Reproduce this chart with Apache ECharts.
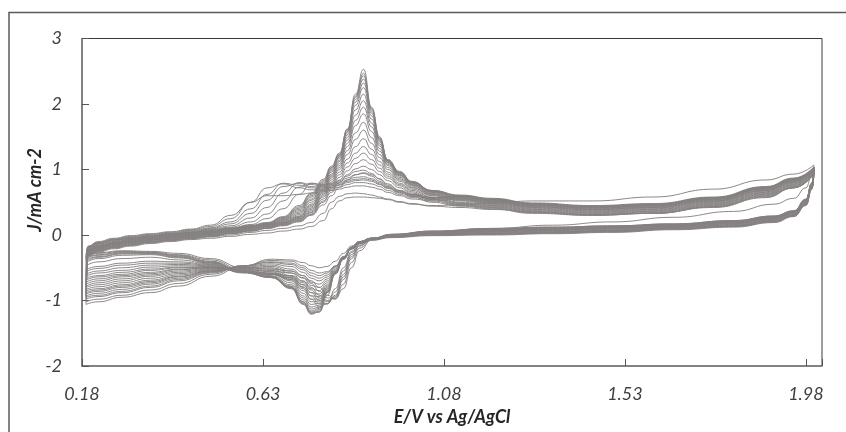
<!DOCTYPE html>
<html>
<head>
<meta charset="utf-8">
<script src="https://cdn.jsdelivr.net/npm/echarts@6/dist/echarts.min.js"></script>
<style>html,body{margin:0;padding:0;background:#fff;}#chart{width:846px;height:432px;}</style>
</head>
<body>
<div id="chart"></div>
<script>
// Potential grids (V vs Ag/AgCl) for the anodic (forward) and cathodic (reverse) sweeps
const fwdE = [0.19, 0.195, 0.22, 0.26, 0.30, 0.35, 0.40, 0.45, 0.50, 0.55, 0.60, 0.64, 0.68, 0.72, 0.75, 0.78, 0.80, 0.82, 0.84, 0.86, 0.88, 0.90, 0.92, 0.94, 0.97, 1.00, 1.05, 1.12, 1.20, 1.30, 1.45, 1.60, 1.75, 1.88, 1.95, 2.00];
const revE = [2.00, 1.995, 1.98, 1.95, 1.90, 1.80, 1.65, 1.50, 1.35, 1.20, 1.05, 0.95, 0.90, 0.87, 0.85, 0.83, 0.81, 0.79, 0.77, 0.75, 0.73, 0.70, 0.65, 0.58, 0.50, 0.42, 0.35, 0.28, 0.22, 0.19];

// Current density (mA cm-2), one pair of arrays per cycle
const cycle01Fwd = [-1.06, -0.32, -0.26, -0.21, -0.17, -0.13, -0.1, -0.07, -0.05, -0.02, 0.01, 0.03, 0.06, 0.09, 0.13, 0.22, 0.4, 0.52, 0.57, 0.58, 0.58, 0.57, 0.56, 0.54, 0.5, 0.47, 0.45, 0.46, 0.49, 0.52, 0.52, 0.58, 0.7, 0.84, 0.93, 1.07];
const cycle01Rev = [1.07, 0.92, 0.72, 0.56, 0.47, 0.36, 0.27, 0.2, 0.15, 0.1, 0.05, 0.0, -0.05, -0.1, -0.17, -0.28, -0.4, -0.48, -0.5, -0.47, -0.42, -0.38, -0.37, -0.48, -0.63, -0.78, -0.88, -0.95, -1.02, -1.06];

const cycle02Fwd = [-1.02, -0.31, -0.25, -0.2, -0.16, -0.12, -0.09, -0.06, -0.03, 0.0, 0.04, 0.07, 0.1, 0.14, 0.19, 0.33, 0.5, 0.59, 0.63, 0.64, 0.63, 0.61, 0.58, 0.55, 0.51, 0.48, 0.44, 0.42, 0.39, 0.35, 0.31, 0.33, 0.42, 0.57, 0.72, 0.94];
const cycle02Rev = [0.94, 0.7, 0.45, 0.28, 0.19, 0.12, 0.08, 0.04, 0.02, 0.0, -0.01, -0.04, -0.08, -0.13, -0.22, -0.35, -0.48, -0.56, -0.58, -0.54, -0.47, -0.4, -0.39, -0.47, -0.6, -0.74, -0.84, -0.92, -0.98, -1.02];

const cycle03Fwd = [-0.98, -0.3, -0.24, -0.19, -0.15, -0.11, -0.08, -0.05, -0.02, 0.02, 0.06, 0.1, 0.14, 0.2, 0.3, 0.46, 0.6, 0.73, 0.84, 0.92, 0.95, 0.92, 0.86, 0.78, 0.68, 0.59, 0.5, 0.44, 0.4, 0.33, 0.3, 0.33, 0.43, 0.58, 0.72, 0.93];
const cycle03Rev = [0.93, 0.7, 0.46, 0.29, 0.2, 0.13, 0.09, 0.05, 0.03, 0.01, 0.0, -0.03, -0.07, -0.12, -0.2, -0.33, -0.47, -0.58, -0.62, -0.58, -0.5, -0.43, -0.41, -0.47, -0.58, -0.7, -0.8, -0.88, -0.94, -0.98];

const cycle04Fwd = [-0.95, -0.3, -0.24, -0.19, -0.15, -0.11, -0.08, -0.05, -0.02, 0.02, 0.06, 0.1, 0.15, 0.21, 0.31, 0.5, 0.65, 0.8, 0.92, 1.01, 1.05, 1.0, 0.92, 0.83, 0.72, 0.62, 0.52, 0.45, 0.41, 0.34, 0.3, 0.33, 0.43, 0.59, 0.72, 0.94];
const cycle04Rev = [0.94, 0.71, 0.46, 0.29, 0.2, 0.13, 0.09, 0.05, 0.03, 0.01, 0.0, -0.03, -0.07, -0.12, -0.2, -0.33, -0.48, -0.61, -0.66, -0.62, -0.53, -0.45, -0.42, -0.47, -0.57, -0.68, -0.78, -0.86, -0.92, -0.95];

const cycle05Fwd = [-0.93, -0.29, -0.23, -0.18, -0.14, -0.1, -0.07, -0.04, -0.01, 0.03, 0.07, 0.11, 0.16, 0.22, 0.32, 0.52, 0.68, 0.84, 0.98, 1.09, 1.15, 1.08, 0.97, 0.87, 0.75, 0.64, 0.54, 0.46, 0.42, 0.35, 0.31, 0.34, 0.44, 0.6, 0.73, 0.95];
const cycle05Rev = [0.95, 0.72, 0.47, 0.3, 0.21, 0.14, 0.1, 0.06, 0.04, 0.02, 0.0, -0.03, -0.07, -0.12, -0.2, -0.34, -0.5, -0.64, -0.7, -0.66, -0.57, -0.48, -0.44, -0.48, -0.56, -0.66, -0.75, -0.83, -0.89, -0.93];

const cycle06Fwd = [-0.9, -0.29, -0.23, -0.18, -0.14, -0.1, -0.07, -0.04, -0.01, 0.03, 0.07, 0.11, 0.16, 0.23, 0.34, 0.55, 0.72, 0.88, 1.04, 1.17, 1.25, 1.15, 1.02, 0.9, 0.77, 0.66, 0.55, 0.47, 0.43, 0.36, 0.32, 0.35, 0.45, 0.61, 0.74, 0.95];
const cycle06Rev = [0.95, 0.72, 0.47, 0.3, 0.21, 0.14, 0.1, 0.06, 0.04, 0.02, 0.0, -0.03, -0.07, -0.12, -0.2, -0.35, -0.52, -0.67, -0.75, -0.72, -0.62, -0.52, -0.46, -0.49, -0.55, -0.64, -0.73, -0.8, -0.86, -0.9];

const cycle07Fwd = [-0.88, -0.28, -0.22, -0.17, -0.13, -0.09, -0.06, -0.03, 0.0, 0.04, 0.08, 0.12, 0.17, 0.24, 0.35, 0.58, 0.75, 0.92, 1.1, 1.25, 1.35, 1.23, 1.07, 0.93, 0.79, 0.68, 0.57, 0.48, 0.44, 0.37, 0.33, 0.36, 0.46, 0.62, 0.75, 0.96];
const cycle07Rev = [0.96, 0.73, 0.48, 0.31, 0.22, 0.15, 0.1, 0.07, 0.05, 0.03, 0.01, -0.03, -0.07, -0.12, -0.21, -0.36, -0.54, -0.7, -0.8, -0.77, -0.66, -0.55, -0.48, -0.5, -0.55, -0.63, -0.71, -0.78, -0.84, -0.88];

const cycle08Fwd = [-0.85, -0.27, -0.21, -0.16, -0.12, -0.08, -0.05, -0.02, 0.01, 0.05, 0.09, 0.13, 0.18, 0.25, 0.37, 0.6, 0.78, 0.96, 1.16, 1.35, 1.47, 1.31, 1.12, 0.96, 0.82, 0.7, 0.58, 0.49, 0.45, 0.38, 0.34, 0.37, 0.47, 0.63, 0.76, 0.97];
const cycle08Rev = [0.97, 0.73, 0.48, 0.31, 0.22, 0.15, 0.11, 0.07, 0.05, 0.03, 0.01, -0.02, -0.06, -0.12, -0.21, -0.36, -0.55, -0.73, -0.85, -0.82, -0.71, -0.58, -0.5, -0.5, -0.54, -0.61, -0.69, -0.76, -0.82, -0.85];

const cycle09Fwd = [-0.83, -0.27, -0.21, -0.16, -0.12, -0.08, -0.05, -0.02, 0.01, 0.05, 0.09, 0.13, 0.18, 0.26, 0.39, 0.62, 0.81, 1.0, 1.23, 1.46, 1.6, 1.4, 1.18, 1.0, 0.84, 0.72, 0.6, 0.5, 0.46, 0.39, 0.35, 0.38, 0.48, 0.64, 0.77, 0.98];
const cycle09Rev = [0.98, 0.74, 0.49, 0.32, 0.23, 0.16, 0.11, 0.08, 0.06, 0.04, 0.02, -0.02, -0.06, -0.12, -0.21, -0.37, -0.57, -0.76, -0.9, -0.88, -0.76, -0.62, -0.52, -0.5, -0.53, -0.59, -0.66, -0.73, -0.79, -0.83];

const cycle10Fwd = [-0.8, -0.26, -0.2, -0.15, -0.11, -0.07, -0.04, -0.01, 0.02, 0.06, 0.1, 0.14, 0.19, 0.27, 0.41, 0.64, 0.84, 1.03, 1.29, 1.56, 1.72, 1.49, 1.23, 1.03, 0.86, 0.73, 0.61, 0.52, 0.47, 0.4, 0.36, 0.39, 0.49, 0.65, 0.78, 0.98];
const cycle10Rev = [0.98, 0.75, 0.5, 0.33, 0.24, 0.17, 0.12, 0.09, 0.07, 0.05, 0.02, -0.02, -0.06, -0.12, -0.21, -0.37, -0.58, -0.78, -0.94, -0.93, -0.8, -0.65, -0.54, -0.51, -0.52, -0.57, -0.63, -0.7, -0.76, -0.8];

const cycle11Fwd = [-0.78, -0.26, -0.2, -0.15, -0.11, -0.07, -0.04, -0.01, 0.02, 0.06, 0.1, 0.14, 0.19, 0.28, 0.43, 0.66, 0.87, 1.06, 1.35, 1.67, 1.85, 1.58, 1.28, 1.06, 0.88, 0.75, 0.62, 0.53, 0.48, 0.41, 0.37, 0.4, 0.5, 0.66, 0.79, 0.99];
const cycle11Rev = [0.99, 0.75, 0.5, 0.33, 0.24, 0.17, 0.12, 0.09, 0.07, 0.05, 0.02, -0.02, -0.06, -0.12, -0.21, -0.37, -0.58, -0.8, -0.98, -0.98, -0.85, -0.68, -0.56, -0.52, -0.51, -0.55, -0.61, -0.67, -0.73, -0.78];

const cycle12Fwd = [-0.75, -0.25, -0.19, -0.14, -0.1, -0.06, -0.03, 0.0, 0.03, 0.07, 0.11, 0.15, 0.2, 0.29, 0.45, 0.68, 0.89, 1.09, 1.4, 1.75, 1.95, 1.65, 1.32, 1.08, 0.9, 0.76, 0.63, 0.54, 0.49, 0.42, 0.38, 0.41, 0.51, 0.67, 0.8, 1.0];
const cycle12Rev = [1.0, 0.76, 0.51, 0.34, 0.25, 0.18, 0.13, 0.1, 0.08, 0.06, 0.03, -0.02, -0.06, -0.11, -0.2, -0.36, -0.58, -0.82, -1.01, -1.02, -0.89, -0.7, -0.58, -0.53, -0.5, -0.53, -0.59, -0.64, -0.7, -0.75];

const cycle13Fwd = [-0.72, -0.25, -0.19, -0.14, -0.1, -0.06, -0.03, 0.0, 0.03, 0.07, 0.11, 0.15, 0.21, 0.31, 0.47, 0.7, 0.91, 1.12, 1.45, 1.83, 2.05, 1.71, 1.36, 1.1, 0.91, 0.77, 0.64, 0.55, 0.5, 0.43, 0.39, 0.42, 0.52, 0.68, 0.81, 1.0];
const cycle13Rev = [1.0, 0.76, 0.51, 0.34, 0.25, 0.18, 0.13, 0.1, 0.08, 0.06, 0.03, -0.02, -0.06, -0.11, -0.2, -0.36, -0.58, -0.83, -1.04, -1.06, -0.93, -0.73, -0.6, -0.54, -0.5, -0.52, -0.57, -0.62, -0.67, -0.72];

const cycle14Fwd = [-0.69, -0.24, -0.18, -0.13, -0.09, -0.05, -0.02, 0.01, 0.04, 0.08, 0.12, 0.16, 0.22, 0.33, 0.5, 0.72, 0.93, 1.14, 1.49, 1.91, 2.15, 1.77, 1.39, 1.11, 0.92, 0.78, 0.65, 0.56, 0.51, 0.44, 0.4, 0.43, 0.53, 0.69, 0.82, 1.0];
const cycle14Rev = [1.0, 0.77, 0.52, 0.35, 0.26, 0.19, 0.14, 0.11, 0.09, 0.07, 0.03, -0.02, -0.06, -0.11, -0.2, -0.36, -0.58, -0.85, -1.07, -1.1, -0.96, -0.76, -0.62, -0.55, -0.49, -0.5, -0.54, -0.6, -0.64, -0.69];

const cycle15Fwd = [-0.66, -0.24, -0.18, -0.13, -0.09, -0.05, -0.02, 0.01, 0.04, 0.08, 0.12, 0.16, 0.23, 0.35, 0.53, 0.75, 0.96, 1.17, 1.53, 1.98, 2.25, 1.82, 1.42, 1.12, 0.93, 0.79, 0.66, 0.57, 0.52, 0.45, 0.41, 0.44, 0.54, 0.7, 0.83, 1.01];
const cycle15Rev = [1.01, 0.77, 0.52, 0.35, 0.26, 0.19, 0.14, 0.11, 0.09, 0.07, 0.03, -0.02, -0.06, -0.11, -0.2, -0.36, -0.58, -0.86, -1.1, -1.13, -0.99, -0.78, -0.63, -0.56, -0.49, -0.49, -0.52, -0.57, -0.62, -0.66];

const cycle16Fwd = [-0.63, -0.23, -0.17, -0.12, -0.08, -0.04, -0.01, 0.02, 0.05, 0.09, 0.13, 0.17, 0.24, 0.37, 0.55, 0.77, 0.98, 1.19, 1.56, 2.03, 2.32, 1.86, 1.44, 1.13, 0.94, 0.8, 0.66, 0.58, 0.53, 0.46, 0.42, 0.45, 0.55, 0.71, 0.84, 1.02];
const cycle16Rev = [1.02, 0.78, 0.52, 0.35, 0.27, 0.2, 0.15, 0.12, 0.1, 0.08, 0.04, -0.01, -0.05, -0.1, -0.19, -0.35, -0.58, -0.87, -1.12, -1.16, -1.02, -0.79, -0.64, -0.56, -0.48, -0.47, -0.49, -0.54, -0.58, -0.63];

const cycle17Fwd = [-0.6, -0.23, -0.17, -0.12, -0.08, -0.04, -0.01, 0.02, 0.05, 0.09, 0.13, 0.17, 0.25, 0.39, 0.58, 0.79, 1.0, 1.21, 1.58, 2.07, 2.38, 1.89, 1.46, 1.14, 0.95, 0.8, 0.67, 0.59, 0.54, 0.47, 0.43, 0.46, 0.56, 0.72, 0.85, 1.02];
const cycle17Rev = [1.02, 0.78, 0.53, 0.35, 0.27, 0.2, 0.15, 0.12, 0.1, 0.08, 0.04, -0.01, -0.05, -0.1, -0.19, -0.35, -0.58, -0.88, -1.14, -1.18, -1.04, -0.8, -0.64, -0.56, -0.47, -0.45, -0.46, -0.5, -0.55, -0.6];

const cycle18Fwd = [-0.56, -0.22, -0.16, -0.11, -0.07, -0.03, 0.0, 0.03, 0.06, 0.1, 0.14, 0.18, 0.26, 0.41, 0.6, 0.81, 1.02, 1.22, 1.6, 2.1, 2.43, 1.92, 1.47, 1.14, 0.95, 0.81, 0.67, 0.6, 0.55, 0.48, 0.44, 0.47, 0.57, 0.73, 0.86, 1.03];
const cycle18Rev = [1.03, 0.79, 0.53, 0.36, 0.28, 0.21, 0.16, 0.13, 0.11, 0.09, 0.05, -0.01, -0.05, -0.1, -0.19, -0.34, -0.57, -0.88, -1.16, -1.2, -1.05, -0.81, -0.65, -0.57, -0.46, -0.43, -0.43, -0.46, -0.51, -0.56];

const cycle19Fwd = [-0.53, -0.22, -0.16, -0.11, -0.07, -0.03, 0.0, 0.03, 0.06, 0.1, 0.14, 0.18, 0.27, 0.43, 0.62, 0.83, 1.03, 1.23, 1.61, 2.12, 2.47, 1.93, 1.48, 1.15, 0.96, 0.81, 0.68, 0.6, 0.55, 0.48, 0.44, 0.47, 0.57, 0.73, 0.86, 1.03];
const cycle19Rev = [1.03, 0.79, 0.54, 0.36, 0.28, 0.21, 0.16, 0.13, 0.11, 0.09, 0.05, -0.01, -0.05, -0.1, -0.19, -0.34, -0.56, -0.88, -1.17, -1.21, -1.06, -0.82, -0.65, -0.57, -0.45, -0.41, -0.4, -0.43, -0.48, -0.53];

const cycle20Fwd = [-0.47, -0.21, -0.15, -0.1, -0.06, -0.02, 0.01, 0.04, 0.07, 0.11, 0.15, 0.19, 0.28, 0.45, 0.64, 0.85, 1.05, 1.25, 1.62, 2.15, 2.53, 1.95, 1.5, 1.15, 0.97, 0.82, 0.68, 0.61, 0.56, 0.49, 0.45, 0.48, 0.58, 0.74, 0.87, 1.04];
const cycle20Rev = [1.04, 0.8, 0.55, 0.37, 0.29, 0.22, 0.17, 0.14, 0.12, 0.1, 0.06, 0.0, -0.05, -0.1, -0.2, -0.36, -0.6, -0.92, -1.18, -1.18, -1.02, -0.8, -0.64, -0.58, -0.44, -0.38, -0.34, -0.36, -0.41, -0.47];

const cycle21Fwd = [-0.42, -0.2, -0.14, -0.09, -0.05, -0.02, 0.01, 0.04, 0.07, 0.1, 0.16, 0.25, 0.4, 0.62, 0.79, 0.77, 0.79, 0.83, 0.9, 0.97, 0.99, 0.94, 0.85, 0.76, 0.68, 0.62, 0.57, 0.58, 0.53, 0.46, 0.42, 0.45, 0.55, 0.71, 0.84, 1.02];
const cycle21Rev = [1.02, 0.78, 0.53, 0.36, 0.28, 0.21, 0.16, 0.13, 0.11, 0.09, 0.05, 0.0, -0.05, -0.12, -0.25, -0.5, -0.82, -1.05, -1.1, -0.98, -0.82, -0.68, -0.6, -0.56, -0.43, -0.35, -0.3, -0.31, -0.36, -0.42];

const cycle22Fwd = [-0.4, -0.2, -0.13, -0.08, -0.05, -0.02, 0.01, 0.04, 0.08, 0.12, 0.2, 0.32, 0.52, 0.73, 0.79, 0.75, 0.77, 0.81, 0.87, 0.92, 0.94, 0.9, 0.82, 0.74, 0.67, 0.62, 0.57, 0.59, 0.54, 0.47, 0.43, 0.46, 0.56, 0.72, 0.85, 1.03];
const cycle22Rev = [1.03, 0.78, 0.53, 0.36, 0.28, 0.21, 0.16, 0.13, 0.11, 0.09, 0.05, 0.0, -0.05, -0.13, -0.27, -0.55, -0.87, -1.05, -1.05, -0.93, -0.79, -0.66, -0.6, -0.56, -0.42, -0.34, -0.29, -0.29, -0.34, -0.4];

const cycle23Fwd = [-0.38, -0.19, -0.13, -0.08, -0.04, -0.01, 0.02, 0.05, 0.09, 0.14, 0.26, 0.42, 0.64, 0.8, 0.77, 0.74, 0.75, 0.79, 0.84, 0.88, 0.89, 0.86, 0.8, 0.73, 0.66, 0.61, 0.57, 0.6, 0.55, 0.48, 0.44, 0.47, 0.57, 0.73, 0.86, 1.03];
const cycle23Rev = [1.03, 0.79, 0.54, 0.37, 0.29, 0.22, 0.17, 0.14, 0.12, 0.1, 0.06, 0.01, -0.05, -0.14, -0.3, -0.6, -0.92, -1.05, -1.0, -0.88, -0.76, -0.65, -0.6, -0.57, -0.42, -0.33, -0.28, -0.28, -0.33, -0.38];

const cycle24Fwd = [-0.36, -0.19, -0.12, -0.07, -0.04, -0.01, 0.02, 0.06, 0.1, 0.17, 0.33, 0.53, 0.74, 0.79, 0.74, 0.72, 0.73, 0.77, 0.82, 0.85, 0.86, 0.84, 0.78, 0.72, 0.65, 0.6, 0.56, 0.59, 0.54, 0.47, 0.43, 0.46, 0.56, 0.72, 0.85, 1.02];
const cycle24Rev = [1.02, 0.78, 0.53, 0.36, 0.28, 0.21, 0.16, 0.13, 0.11, 0.09, 0.05, 0.01, -0.06, -0.16, -0.33, -0.64, -0.94, -1.02, -0.96, -0.84, -0.73, -0.63, -0.59, -0.56, -0.41, -0.32, -0.27, -0.27, -0.31, -0.36];

const cycle25Fwd = [-0.35, -0.18, -0.12, -0.07, -0.03, 0.0, 0.03, 0.07, 0.11, 0.2, 0.4, 0.62, 0.79, 0.76, 0.72, 0.7, 0.72, 0.76, 0.8, 0.83, 0.84, 0.82, 0.77, 0.71, 0.64, 0.59, 0.56, 0.59, 0.54, 0.47, 0.43, 0.46, 0.56, 0.72, 0.85, 1.02];
const cycle25Rev = [1.02, 0.78, 0.53, 0.36, 0.28, 0.21, 0.16, 0.13, 0.11, 0.09, 0.05, 0.01, -0.06, -0.17, -0.36, -0.68, -0.96, -1.0, -0.92, -0.8, -0.7, -0.62, -0.58, -0.55, -0.4, -0.31, -0.27, -0.26, -0.3, -0.35];

const cycle26Fwd = [-0.33, -0.18, -0.11, -0.06, -0.02, 0.01, 0.04, 0.08, 0.13, 0.25, 0.5, 0.72, 0.78, 0.72, 0.69, 0.68, 0.7, 0.73, 0.77, 0.8, 0.8, 0.78, 0.74, 0.68, 0.62, 0.57, 0.54, 0.57, 0.52, 0.45, 0.41, 0.44, 0.54, 0.7, 0.83, 1.01];
const cycle26Rev = [1.01, 0.77, 0.52, 0.35, 0.27, 0.2, 0.15, 0.12, 0.1, 0.08, 0.04, 0.0, -0.07, -0.2, -0.42, -0.75, -0.98, -0.96, -0.86, -0.74, -0.65, -0.58, -0.55, -0.53, -0.38, -0.3, -0.26, -0.25, -0.28, -0.33];

const cycle27Fwd = [-0.3, -0.17, -0.1, -0.05, -0.01, 0.02, 0.05, 0.09, 0.15, 0.3, 0.5, 0.6, 0.6, 0.62, 0.64, 0.66, 0.68, 0.7, 0.73, 0.75, 0.75, 0.73, 0.7, 0.65, 0.6, 0.55, 0.52, 0.55, 0.5, 0.43, 0.39, 0.42, 0.52, 0.68, 0.81, 1.0];
const cycle27Rev = [1.0, 0.76, 0.51, 0.34, 0.26, 0.19, 0.14, 0.11, 0.09, 0.07, 0.03, -0.01, -0.08, -0.24, -0.5, -0.82, -0.97, -0.92, -0.8, -0.7, -0.62, -0.55, -0.52, -0.5, -0.36, -0.28, -0.25, -0.24, -0.27, -0.3];

// Axis tick labels and titles
const xTickLabels = ['0.18', '0.63', '1.08', '1.53', '1.98'];
const yTickLabels = ['-2', '-1', '0', '1', '2', '3'];
const xTitle = 'E/V vs Ag/AgCl';
const yTitle = 'J/mA cm-2';

const cycles = [
  [cycle01Fwd, cycle01Rev], [cycle02Fwd, cycle02Rev], [cycle03Fwd, cycle03Rev],
  [cycle04Fwd, cycle04Rev], [cycle05Fwd, cycle05Rev], [cycle06Fwd, cycle06Rev],
  [cycle07Fwd, cycle07Rev], [cycle08Fwd, cycle08Rev], [cycle09Fwd, cycle09Rev],
  [cycle10Fwd, cycle10Rev], [cycle11Fwd, cycle11Rev], [cycle12Fwd, cycle12Rev],
  [cycle13Fwd, cycle13Rev], [cycle14Fwd, cycle14Rev], [cycle15Fwd, cycle15Rev],
  [cycle16Fwd, cycle16Rev], [cycle17Fwd, cycle17Rev], [cycle18Fwd, cycle18Rev],
  [cycle19Fwd, cycle19Rev], [cycle20Fwd, cycle20Rev], [cycle21Fwd, cycle21Rev],
  [cycle22Fwd, cycle22Rev], [cycle23Fwd, cycle23Rev], [cycle24Fwd, cycle24Rev],
  [cycle25Fwd, cycle25Rev], [cycle26Fwd, cycle26Rev], [cycle27Fwd, cycle27Rev]
];

const LINE_COLOR = '#868181';
function branch(xs, ys) {
  return {
    type: 'line',
    data: xs.map((x, i) => [x, ys[i]]),
    showSymbol: false,
    symbol: 'none',
    smooth: 0.5,
    smoothMonotone: 'x',
    silent: true,
    animation: false,
    lineStyle: { color: LINE_COLOR, width: 1, opacity: 0.95 }
  };
}
const series = [];
cycles.forEach(([f, r]) => { series.push(branch(fwdE, f)); series.push(branch(revE, r)); });

const xMin = parseFloat(xTickLabels[0]);
const xStep = parseFloat(xTickLabels[1]) - parseFloat(xTickLabels[0]);
const yMin = parseFloat(yTickLabels[0]);
const yMax = parseFloat(yTickLabels[yTickLabels.length - 1]);

const labelFont = { fontFamily: 'Lato', fontStyle: 'italic', fontSize: 18, color: '#3f3f3f' };
const titleFont = { fontFamily: 'Lato', fontStyle: 'italic', fontWeight: 'bold', fontSize: 18 };

const chart = echarts.init(document.getElementById('chart'), null, { renderer: 'canvas' });
chart.setOption({
  animation: false,
  backgroundColor: '#ffffff',
  graphic: [{
    type: 'rect', silent: true, z: -10,
    shape: { x: 9, y: 12.5, width: 850, height: 440 },
    style: { fill: 'none', stroke: '#5a5a5a', lineWidth: 1.5 }
  }, {
    type: 'text', silent: true,
    x: 35, y: 190, rotation: Math.PI / 2,
    style: Object.assign({ text: yTitle, fill: '#262626', align: 'center', verticalAlign: 'middle' }, titleFont)
  }],
  grid: {
    left: 82, top: 38.5, width: 740, height: 327.5,
    show: true, borderColor: '#3a3a3a', borderWidth: 1, backgroundColor: 'transparent'
  },
  xAxis: {
    type: 'value', min: xMin, max: 2.02, interval: xStep,
    splitLine: { show: false },
    axisLine: { show: true, onZero: false, lineStyle: { color: '#7a7a7a', width: 1.5 } },
    axisTick: { show: true, inside: true, length: 7, lineStyle: { color: '#555', width: 1 } },
    axisLabel: Object.assign({}, labelFont, {
      margin: 19,
      formatter: v => { const m = xTickLabels.find(t => Math.abs(parseFloat(t) - v) < 1e-6); return m || ''; }
    }),
    name: xTitle, nameLocation: 'middle', nameGap: 37,
    nameTextStyle: Object.assign({ color: '#262626' }, titleFont)
  },
  yAxis: {
    type: 'value', min: yMin, max: yMax, interval: 1,
    splitLine: { show: false },
    axisLine: { show: true, onZero: false, lineStyle: { color: '#7a7a7a', width: 1.5 } },
    axisTick: { show: true, inside: true, length: 7, lineStyle: { color: '#555', width: 1 } },
    axisLabel: Object.assign({}, labelFont, {
      margin: 20,
      formatter: v => { const m = yTickLabels.find(t => Math.abs(parseFloat(t) - v) < 1e-6); return m || ''; }
    })
  },
  series: series
});
</script>
</body>
</html>
